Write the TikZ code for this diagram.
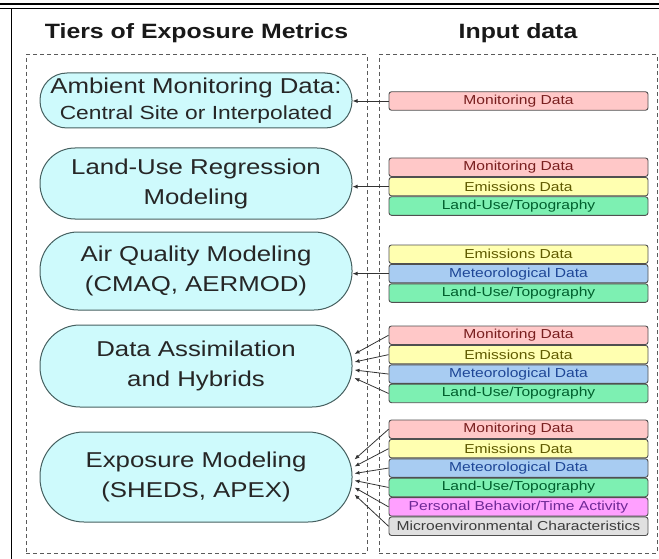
\documentclass[tikz,border=0pt]{standalone}
\usepackage{fontspec}
\setmainfont{Liberation Sans}[FakeStretch=1.2]
\usetikzlibrary{arrows.meta,positioning,calc}
\definecolor{tierfill}{RGB}{206,250,252}
\definecolor{tierline}{RGB}{70,96,96}
\definecolor{boxline}{RGB}{80,80,80}
\definecolor{panelline}{RGB}{90,90,90}
\definecolor{monfill}{RGB}{255,200,200}
\definecolor{montext}{RGB}{120,30,30}
\definecolor{emifill}{RGB}{255,255,176}
\definecolor{emitext}{RGB}{95,90,0}
\definecolor{metfill}{RGB}{168,204,242}
\definecolor{mettext}{RGB}{30,70,150}
\definecolor{lufill}{RGB}{125,240,178}
\definecolor{lutext}{RGB}{0,95,45}
\definecolor{perfill}{RGB}{255,160,255}
\definecolor{pertext}{RGB}{110,40,150}
\definecolor{micfill}{RGB}{224,224,224}
\definecolor{mictext}{RGB}{60,60,60}

\begin{document}
\begin{tikzpicture}[x=1pt, y=-1pt, every node/.style={font=\fontsize{13}{15}\selectfont}]
\tikzset{tier/.style={draw=tierline, fill=tierfill, line width=1pt, minimum width=312pt, inner sep=0pt, align=center, text=black!85, font=\fontsize{21.5}{30}\selectfont}}
\tikzset{inbox/.style={draw=boxline, line width=0.9pt, rounded corners=2.5pt, minimum width=259pt, minimum height=18.5pt, inner sep=0pt}}
\tikzset{mon/.style={inbox, fill=monfill, text=montext}}
\tikzset{emi/.style={inbox, fill=emifill, text=emitext}}
\tikzset{met/.style={inbox, fill=metfill, text=mettext}}
\tikzset{lu/.style={inbox, fill=lufill, text=lutext}}
\tikzset{per/.style={inbox, fill=perfill, text=pertext}}
\tikzset{mic/.style={inbox, fill=micfill, text=mictext}}
\tikzset{panel/.style={draw=panelline, dash pattern=on 4pt off 3pt, line width=1pt, inner sep=0pt}}
\tikzset{heading/.style={font=\fontsize{20.7}{24}\selectfont\bfseries, text=black!90}}
\tikzset{feed/.style={draw=black!80, line width=0.8pt, -{Latex[length=5pt,width=4pt]}}}
\useasboundingbox (0,0) rectangle (659,559);
% frame
\draw[line width=2pt] (0,4.5) -- (659,4.5);
\draw[line width=1pt] (0,8.5) -- (659,8.5);
\draw[line width=1.4pt] (11.5,8.5) -- (11.5,559);
% panels and headings
\node[panel, minimum width=341pt, minimum height=498pt] (tiers) at (196.5,304) {};
\node[panel, minimum width=278pt, minimum height=498pt] (inputs) at (518,304) {};
\node[heading] (tiershead) at (196.5,33) {Tiers of Exposure Metrics};
\node[heading] (inputhead) at (518,33) {Input data};
% tiers
\node[tier, minimum height=55pt, rounded corners=27pt] (amb) at (196,100.5)
  {Ambient Monitoring Data:\\[-4pt]{\fontsize{19}{22}\selectfont Central Site or Interpolated}};
\node[tier, minimum height=71pt, rounded corners=35pt] (lur) at (196,183.5) {Land-Use Regression\\Modeling};
\node[tier, minimum height=78pt, rounded corners=38pt] (aqm) at (196,271) {Air Quality Modeling\\(CMAQ, AERMOD)};
\node[tier, minimum height=82pt, rounded corners=40pt] (hyb) at (196,366) {Data Assimilation\\and Hybrids};
\node[tier, minimum height=90pt, rounded corners=44pt] (exm) at (196,477) {Exposure Modeling\\(SHEDS, APEX)};
% input data
\node[mon] (m1) at (518.5,101) {Monitoring Data};

\node[mon] (m2) at (518.5,167.25) {Monitoring Data};
\node[emi, below=0pt of m2] (e2) {Emissions Data};
\node[lu, below=0pt of e2] (l2) {Land-Use/Topography};

\node[emi] (e3) at (518.5,254.25) {Emissions Data};
\node[met, below=0pt of e3] (w3) {Meteorological Data};
\node[lu, below=0pt of w3] (l3) {Land-Use/Topography};

\node[mon] (m4) at (518.5,335.25) {Monitoring Data};
\node[emi, below=0pt of m4] (e4) {Emissions Data};
\node[met, below=0pt of e4] (w4) {Meteorological Data};
\node[lu, below=0pt of w4] (l4) {Land-Use/Topography};

\node[mon] (m5) at (518.5,429.25) {Monitoring Data};
\node[emi, below=0pt of m5] (e5) {Emissions Data};
\node[met, below=0pt of e5] (w5) {Meteorological Data};
\node[lu, below=0pt of w5] (l5) {Land-Use/Topography};
\node[per, below=0pt of l5] (p5) {Personal Behavior/Time Activity};
\node[mic, below=0pt of p5] (c5) {Microenvironmental Characteristics};
% connectors
\draw[feed] (m1.west) -- (m1.west -| amb.east);
\draw[feed] (e2.west) -- (e2.west -| lur.east);
\draw[feed] (w3.west) -- (w3.west -| aqm.east);
\foreach \b [count=\i] in {m4,e4,w4,l4}
  \draw[feed] (\b.west) -- ($(hyb.east)+(2,{(\i-2.5)*8})$);
\foreach \b [count=\i] in {m5,e5,w5,l5,p5,c5}
  \draw[feed] (\b.west) -- ($(exm.east)+(2,{(\i-3.5)*7})$);
\end{tikzpicture}
\end{document}
